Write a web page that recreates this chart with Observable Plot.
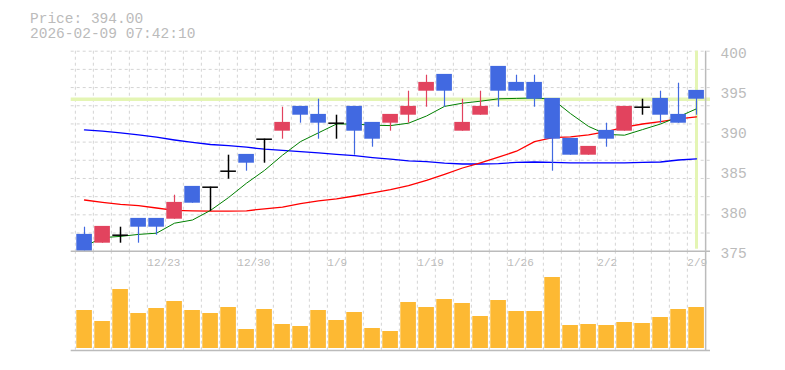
<!DOCTYPE html>
<html><head><meta charset="utf-8">
<script src="https://cdn.jsdelivr.net/npm/d3@7"></script>
<script src="https://cdn.jsdelivr.net/npm/@observablehq/plot@0.6"></script>
<style>
body{margin:0;background:#fff;}
#wrap{position:relative;width:785px;height:370px;overflow:hidden;background:#fff;}
#wrap svg{position:absolute;left:0;top:0;}
.title{position:absolute;left:30px;font-family:"Liberation Mono",monospace;font-size:14.5px;color:#bbb;line-height:14.5px;height:14.5px;white-space:pre;}
</style></head><body>
<div id="wrap">
<div class="title" id="t1" style="top:11.5px"></div>
<div class="title" id="t2" style="top:27px"></div>
</div>
<script>
const dates = ["12/17","12/18","12/19","12/22","12/23","12/24","12/25","12/26","12/29","12/30","1/5","1/6","1/7","1/8","1/9","1/13","1/14","1/15","1/16","1/19","1/20","1/21","1/22","1/23","1/26","1/27","1/28","1/29","1/30","2/2","2/3","2/4","2/5","2/6","2/9"];
const open  = [377,376,377,379,379,379,383,383,385,387,389,390,393,392,391,393,391,391,392,395,397,390,392,398,396,396,394,389,387,390,390,393,394,392,395];
const high  = [378,378,378,379,379,382,383,383,387,387,389,393,393,394,392,393,391,392,395,397,397,394,395,398,397,397,394,389,388,391,393,394,395,396,395];
const low   = [375,376,376,376,377,379,381,380,384,385,386,389,391,389,389,387,388,390,391,393,393,390,392,393,395,393,385,387,387,388,390,392,391,391,392];
const close = [375,378,377,378,378,381,381,383,385,386,389,391,392,391,391,390,389,392,393,396,395,391,393,395,395,394,389,387,388,389,393,393,392,391,394];
const volume = [3800,2700,5900,3500,4000,4700,3800,3500,4100,1900,3900,2400,2200,3800,2800,3600,2000,1700,4600,4100,4900,4500,3200,4800,3700,3700,7100,2300,2400,2300,2600,2500,3100,3900,4100];
const ma5  = [375.6,376.7,376.85,377.1,377.25,378.5,378.9,380.1,381.7,383.5,385.1,387.0,388.7,389.8,390.9,390.9,390.75,390.7,391.0,391.9,393.1,393.5,393.75,394.05,394.1,394.15,394.0,392.2,390.6,389.6,389.5,390.2,390.9,391.8,392.8];
const ma25 = [381.4,381.1,380.85,380.7,380.4,380.1,380.05,380.0,380.0,380.05,380.3,380.5,380.95,381.3,381.55,381.9,382.3,382.7,383.2,383.85,384.6,385.4,386.05,386.75,387.5,388.7,389.2,389.3,389.55,389.96,390.5,390.9,391.2,391.55,391.8];
const ma75 = [390.17,390.0,389.8,389.55,389.25,388.9,388.6,388.34,388.2,388.0,387.75,387.6,387.45,387.3,387.1,386.95,386.7,386.5,386.3,386.2,386.0,385.9,385.9,385.95,386.1,386.15,386.1,386.05,386.05,386.05,386.05,386.1,386.15,386.4,386.55];
const yTicks = [375,380,385,390,395,400];
const xTickLabels = ["12/23","12/30","1/9","1/19","1/26","2/2","2/9"];
const timestamp = "2026-02-09 07:42:10";

const rows = dates.map((d,i)=>({date:d, open:open[i], high:high[i], low:low[i], close:close[i], volume:volume[i], ma5:ma5[i], ma25:ma25[i], ma75:ma75[i]}));
const lastRow = rows[rows.length-1];
document.getElementById("t1").textContent = "Price: " + lastRow.close.toFixed(2);
document.getElementById("t2").textContent = timestamp;

const W = 785, H = 370, ML = 70.7, MR = 75;
const bw = (W - ML - MR) / dates.length;
const UP = "#e2435e", DOWN = "#4169e1", GRID = "#d4d4d4", AX = "#bbbbbb", HL = "#e4f5b4";
const candleColor = d => d.close > d.open ? UP : DOWN;
const nonFlat = rows.filter(d => d.close !== d.open);
const flat = rows.filter(d => d.close === d.open);
const gridY = d3.range(12).map(i => 375 + i * 25 / 11);
const xScale = {type: "band", domain: dates, padding: 0, axis: null, label: null};
const baseStyle = {background: "transparent", fontFamily: "Liberation Mono", color: AX, overflow: "visible"};

const price = Plot.plot({
  width: W, height: H, marginLeft: ML, marginRight: MR, marginTop: 50.7, marginBottom: H - 250.7,
  x: xScale,
  y: {domain: [375, 400], axis: null, label: null},
  style: baseStyle,
  marks: [
    Plot.ruleY(gridY.slice(1), {stroke: GRID, strokeDasharray: "3,3"}),
    Plot.ruleX(dates, {x: d => d, dx: -bw/2, stroke: GRID, strokeDasharray: "3,3"}),
    Plot.ruleY([lastRow.close], {stroke: HL, strokeWidth: 3.5}),
    Plot.ruleX([lastRow.date], {stroke: HL, strokeWidth: 3, insetBottom: 2}),
    Plot.lineY(rows, {x: "date", y: "ma75", stroke: "#0000ff", strokeWidth: 1.3}),
    Plot.lineY(rows, {x: "date", y: "ma25", stroke: "#ff0000", strokeWidth: 1.3}),
    Plot.lineY(rows, {x: "date", y: "ma5", stroke: "#008000", strokeWidth: 1}),
    Plot.ruleX(nonFlat, {x: "date", y1: "low", y2: "high", stroke: candleColor, strokeWidth: 1.2}),
    Plot.barY(nonFlat, {x: "date", y1: d => Math.min(d.open, d.close), y2: d => Math.max(d.open, d.close), fill: candleColor, insetLeft: 1.3, insetRight: 1.1, insetTop: -0.8}),
    Plot.ruleX(flat, {x: "date", y1: "low", y2: "high", stroke: "#000", strokeWidth: 1.5}),
    Plot.tickY(flat, {x: "date", y: "close", stroke: "#000", strokeWidth: 1.5, insetLeft: 1.3, insetRight: 1.1}),
    Plot.ruleY([375], {stroke: AX, strokeWidth: 1.5}),
    Plot.ruleX([lastRow.date], {dx: bw/2, stroke: AX, strokeWidth: 1.5}),
    Plot.axisY(yTicks, {anchor: "right", tickSize: 0, tickPadding: 10, fontSize: 14.5, dy: 2, fill: AX, label: null}),
    Plot.axisX(xTickLabels, {anchor: "bottom", tickSize: 0, tickPadding: 7, textAnchor: "start", dx: -bw/2, fontSize: 11, fill: AX, label: null})
  ]
});

const vol = Plot.plot({
  width: W, height: H, marginLeft: ML, marginRight: MR, marginTop: 250.7, marginBottom: H - 348,
  x: xScale,
  y: {domain: [0, 9730], axis: null, label: null},
  style: baseStyle,
  marks: [
    Plot.ruleX(dates, {x: d => d, dx: -bw/2, stroke: GRID, strokeDasharray: "3,3", insetBottom: -2}),
    Plot.barY(rows, {x: "date", y: "volume", fill: "#fdb933", insetLeft: 1.3, insetRight: 1.1}),
    Plot.ruleY([0], {stroke: AX, strokeWidth: 1.5, dy: 2}),
    Plot.ruleX([lastRow.date], {dx: bw/2, stroke: AX, strokeWidth: 1.5, insetBottom: -2})
  ]
});

const wrap = document.getElementById("wrap");
wrap.insertBefore(vol, wrap.firstChild);
wrap.insertBefore(price, wrap.firstChild.nextSibling);
</script>
</body></html>
